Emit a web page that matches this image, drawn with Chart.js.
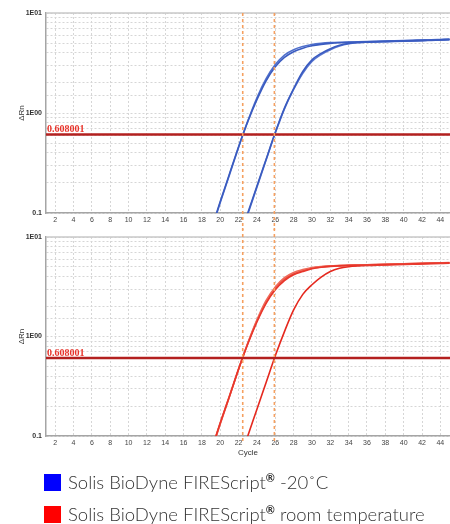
<!DOCTYPE html>
<html>
<head>
<meta charset="utf-8">
<script src="https://cdn.jsdelivr.net/npm/chart.js@4"></script>
<style>
  body { margin: 0; background: #fff; }
  #wrap { position: relative; width: 450px; height: 524px; overflow: hidden; }
  canvas { position: absolute; left: 0; }
  .leg { position: absolute; left: 68px; font: 300 18.5px Lato, sans-serif; color: #333; line-height: 20px; white-space: nowrap; }
  .leg sup { font-size: 11px; font-weight: 700; vertical-align: 7px; line-height: 0; }
  .sw { position: absolute; left: 44px; width: 17px; height: 17px; }
</style>
</head>
<body>
<div id="wrap">
  <canvas id="chartTop" width="450" height="230" style="top:0"></canvas>
  <canvas id="chartBottom" width="450" height="234" style="top:228px"></canvas>
  <div class="sw" style="top:474px;background:#0000ff"></div>
  <div class="leg" style="top:472px">Solis BioDyne FIREScript<sup>®</sup> -20˚C</div>
  <div class="sw" style="top:506px;background:#ff0000"></div>
  <div class="leg" style="top:503.5px">Solis BioDyne FIREScript<sup>®</sup> room temperature</div>
</div>
<script>
// cycles shown in the amplification plots
const cycles = [18, 19, 20, 21, 22, 23, 24, 25, 26, 27, 28, 29, 30, 31, 32, 33, 34, 35, 36, 37, 38, 39, 40, 41, 42, 43, 44, 45];
const cycleTicks = [2, 4, 6, 8, 10, 12, 14, 16, 18, 20, 22, 24, 26, 28, 30, 32, 34, 36, 38, 40, 42, 44];
const yLabels = { 0.1: '0.1', 1: '1E00', 10: '1E01' };

const threshold = 0.608001;
const ctMarks = [22.45, 25.9];

// -20C, blue
const blueEarlyA = [0.036, 0.068, 0.13, 0.245, 0.46, 0.82, 1.36, 2.1, 2.9, 3.6, 4.1, 4.45, 4.7, 4.86, 4.97, 5.04, 5.08, 5.11, 5.14, 5.17, 5.2, 5.23, 5.26, 5.29, 5.32, 5.36, 5.4, 5.44];
const blueEarlyB = [0.035, 0.066, 0.127, 0.24, 0.455, 0.83, 1.42, 2.2, 3.05, 3.8, 4.3, 4.62, 4.84, 4.97, 5.05, 5.1, 5.13, 5.16, 5.19, 5.22, 5.25, 5.28, 5.31, 5.34, 5.37, 5.4, 5.44, 5.48];
const blueLateA = [0.0045, 0.0083, 0.0155, 0.029, 0.054, 0.1, 0.186, 0.345, 0.64, 1.12, 1.75, 2.6, 3.4, 3.95, 4.4, 4.75, 4.97, 5.07, 5.12, 5.16, 5.19, 5.22, 5.25, 5.28, 5.31, 5.35, 5.39, 5.43];
const blueLateB = [0.0044, 0.0081, 0.015, 0.028, 0.052, 0.097, 0.181, 0.338, 0.63, 1.1, 1.72, 2.5, 3.28, 3.85, 4.3, 4.68, 4.92, 5.04, 5.1, 5.14, 5.17, 5.2, 5.23, 5.26, 5.29, 5.33, 5.37, 5.41];

// room temperature, red
const redEarlyA = [0.037, 0.07, 0.135, 0.25, 0.47, 0.84, 1.4, 2.15, 2.95, 3.65, 4.17, 4.5, 4.8, 4.97, 5.07, 5.13, 5.17, 5.2, 5.23, 5.26, 5.29, 5.32, 5.35, 5.38, 5.41, 5.44, 5.47, 5.5];
const redEarlyB = [0.036, 0.068, 0.132, 0.248, 0.47, 0.86, 1.47, 2.3, 3.15, 3.9, 4.4, 4.7, 4.93, 5.06, 5.14, 5.18, 5.21, 5.24, 5.27, 5.3, 5.33, 5.36, 5.39, 5.42, 5.45, 5.48, 5.51, 5.54];
const redEarlyC = [0.038, 0.071, 0.136, 0.252, 0.472, 0.85, 1.44, 2.22, 3.05, 3.78, 4.28, 4.6, 4.86, 5.01, 5.1, 5.15, 5.19, 5.22, 5.25, 5.28, 5.31, 5.34, 5.37, 5.4, 5.43, 5.46, 5.49, 5.52];
const redLate = [0.0045, 0.0083, 0.0155, 0.029, 0.054, 0.1, 0.186, 0.345, 0.64, 1.12, 1.85, 2.65, 3.31, 3.95, 4.5, 4.85, 5.03, 5.12, 5.17, 5.2, 5.23, 5.26, 5.29, 5.32, 5.35, 5.38, 5.41, 5.44];

const xMin = 1, xMax = 45.05;

const toPoints = vals => vals.map((v, i) => ({ x: cycles[i], y: v }));

// threshold label, top border and the Ct guide lines
const overlay = {
    id: 'overlay',
    afterDatasetsDraw(chart, args, opts) {
        const { ctx, chartArea, scales: { x, y } } = chart;
        ctx.save();
        ctx.strokeStyle = '#c9c9c9';
        ctx.lineWidth = 1.5;
        ctx.beginPath();
        ctx.moveTo(chartArea.left, chartArea.top);
        ctx.lineTo(chartArea.right, chartArea.top);
        ctx.stroke();

        ctx.fillStyle = '#e8332a';
        ctx.font = 'bold 10px "Liberation Serif"';
        ctx.textBaseline = 'alphabetic';
        ctx.fillText(String(threshold), chartArea.left + 1, y.getPixelForValue(threshold) - 2.5);

        ctx.strokeStyle = '#f5a060';
        ctx.lineWidth = 1.6;
        ctx.setLineDash([3, 3]);
        const y0 = opts.fromTop ? chartArea.top : 0;
        const y1 = opts.fromTop ? chart.height : chartArea.bottom + 8;
        ctMarks.forEach(c => {
            const px = x.getPixelForValue(c);
            ctx.beginPath();
            ctx.moveTo(px, y0);
            ctx.lineTo(px, y1);
            ctx.stroke();
        });
        ctx.restore();
    }
};

function makeChart(id, series, isTop) {
    const datasets = [{
        data: [{ x: xMin, y: threshold }, { x: xMax, y: threshold }],
        borderColor: '#b3201f',
        borderWidth: 2.5,
        pointRadius: 0,
    }];
    series.forEach(s => datasets.push({
        data: toPoints(s.values),
        borderColor: s.color,
        borderWidth: 1.6,
        pointRadius: 0,
        cubicInterpolationMode: 'monotone',
    }));

    return new Chart(document.getElementById(id), {
        type: 'line',
        data: { datasets },
        options: {
            responsive: false,
            animation: false,
            layout: { padding: { top: isTop ? 13 : 9, left: 0, right: 0, bottom: 0 } },
            scales: {
                x: {
                    type: 'linear',
                    min: xMin,
                    max: xMax,
                    afterBuildTicks: scale => { scale.ticks = cycleTicks.map(v => ({ value: v })); },
                    afterFit: scale => { scale.height = isTop ? 17 : 26; },
                    grid: { color: '#d6d6d6', drawTicks: false },
                    border: { color: '#a5a5a5', width: 1.5, dash: [2, 2] },
                    ticks: {
                        padding: 3,
                        maxRotation: 0,
                        autoSkip: false,
                        color: '#444',
                        font: { family: 'Liberation Sans', size: 7 },
                    },
                    title: {
                        display: !isTop,
                        text: 'Cycle',
                        color: '#333',
                        font: { family: 'Liberation Sans', size: 8 },
                        padding: { top: 0, bottom: 4 },
                    },
                },
                y: {
                    type: 'logarithmic',
                    min: 0.1,
                    max: 10,
                    afterFit: scale => { scale.width = 46; },
                    grid: { color: '#d6d6d6', drawTicks: false },
                    border: { color: '#a5a5a5', width: 1.5, dash: [2, 2] },
                    ticks: {
                        padding: 4,
                        autoSkip: false,
                        color: '#333',
                        font: { family: 'Liberation Sans', size: 7, weight: 'bold' },
                        callback: v => yLabels[v] || '',
                    },
                    title: {
                        display: true,
                        text: 'ΔRn',
                        color: '#333',
                        font: { family: 'Liberation Sans', size: 8 },
                        padding: { top: 17, bottom: 0 },
                    },
                },
            },
            plugins: {
                legend: { display: false },
                tooltip: { enabled: false },
                overlay: { fromTop: isTop },
            },
        },
        plugins: [overlay],
    });
}

makeChart('chartTop', [
    { values: blueEarlyA, color: '#3a5bc0' },
    { values: blueEarlyB, color: '#5070cc' },
    { values: blueLateA, color: '#3a5bc0' },
    { values: blueLateB, color: '#5774cf' },
], true);

makeChart('chartBottom', [
    { values: redEarlyA, color: '#e8362b' },
    { values: redEarlyB, color: '#ef6a5a' },
    { values: redEarlyC, color: '#e84a3c' },
    { values: redLate, color: '#e5281e' },
], false);
</script>
</body>
</html>
